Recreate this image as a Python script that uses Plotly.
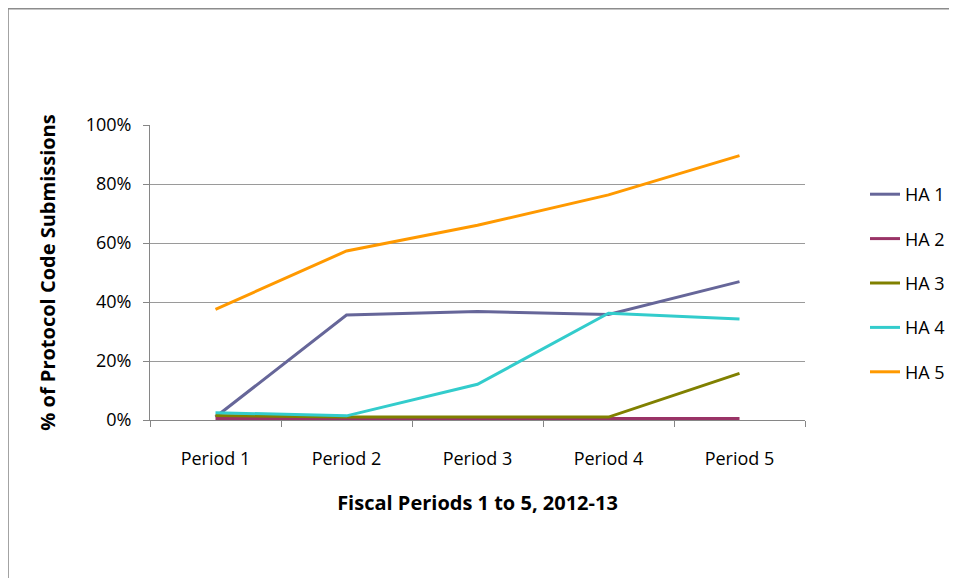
import plotly.graph_objects as go

periods = ["Period 1", "Period 2", "Period 3", "Period 4", "Period 5"]
series_names = ["HA 1", "HA 2", "HA 3", "HA 4", "HA 5"]
ha1 = [0.01, 0.356, 0.368, 0.358, 0.469]
ha2 = [0.005, 0.005, 0.005, 0.005, 0.005]
ha3 = [0.015, 0.01, 0.01, 0.01, 0.158]
ha4 = [0.025, 0.014, 0.121, 0.362, 0.342]
ha5 = [0.375, 0.573, 0.66, 0.763, 0.896]
colors = ["#666699", "#993366", "#808000", "#33CCCC", "#FF9900"]
y_ticks = [0, 0.2, 0.4, 0.6, 0.8, 1.0]
y_title = "% of Protocol Code Submissions"
x_title = "Fiscal Periods 1 to 5, 2012-13"

FONT = "Open Sans, sans-serif"

fig = go.Figure()
for name, vals, col in zip(series_names, [ha1, ha2, ha3, ha4, ha5], colors):
    fig.add_trace(go.Scatter(x=periods, y=vals, name=name, mode="lines",
                             legendgroup=name,
                             line=dict(color=col, width=3)))

# page is offset by 8px body margin; figure coords = page - 8
W, H = 941, 570
L, R, T, B = 142, 144, 117, 158
pw, ph = W - L - R, H - T - B

def px_x(p):
    return (p - L) / pw

def px_y(p):
    return (H - B - p) / ph

fig.update_layout(
    width=W, height=H,
    margin=dict(l=L, r=R, t=T, b=B, autoexpand=False),
    paper_bgcolor="#ffffff",
    plot_bgcolor="rgba(0,0,0,0)",
    font=dict(family=FONT, size=18, color="#000000"),
    showlegend=True,
    legend=dict(x=px_x(857), xanchor="left", y=px_y(168), yanchor="top",
                tracegroupgap=18, font=dict(size=18),
                bgcolor="rgba(0,0,0,0)"),
    shapes=[
        dict(type="line", xref="paper", yref="paper",
             x0=px_x(0), x1=px_x(W + 10), y0=px_y(0.8), y1=px_y(0.8),
             line=dict(color="#8c8c8c", width=1.6), layer="below"),
        dict(type="line", xref="paper", yref="paper",
             x0=px_x(0), x1=px_x(0), y0=px_y(0), y1=px_y(H + 10),
             line=dict(color="#8c8c8c", width=1.6), layer="below"),
    ],
)
fig.update_xaxes(
    type="category", range=[-0.5, 4.5],
    showline=True, linecolor="#868686", linewidth=1,
    ticks="outside", tickson="boundaries", ticklen=6, tickcolor="#868686",
    showgrid=False, zeroline=False,
    ticklabelstandoff=22,
    title=dict(text=x_title, font=dict(size=20, family=FONT, weight="bold"), standoff=27),
)
fig.update_yaxes(
    range=[0, 1], tickvals=y_ticks, tickformat=".0%",
    showline=True, linecolor="#868686", linewidth=1,
    ticks="outside", ticklen=6, tickcolor="#868686",
    showgrid=True, gridcolor="#9a9a9a", gridwidth=1,
    zeroline=False, ticklabelstandoff=8,
    title=dict(text=y_title, font=dict(size=20, family=FONT, weight="bold"), standoff=24),
)

fig.write_html("out.html")
